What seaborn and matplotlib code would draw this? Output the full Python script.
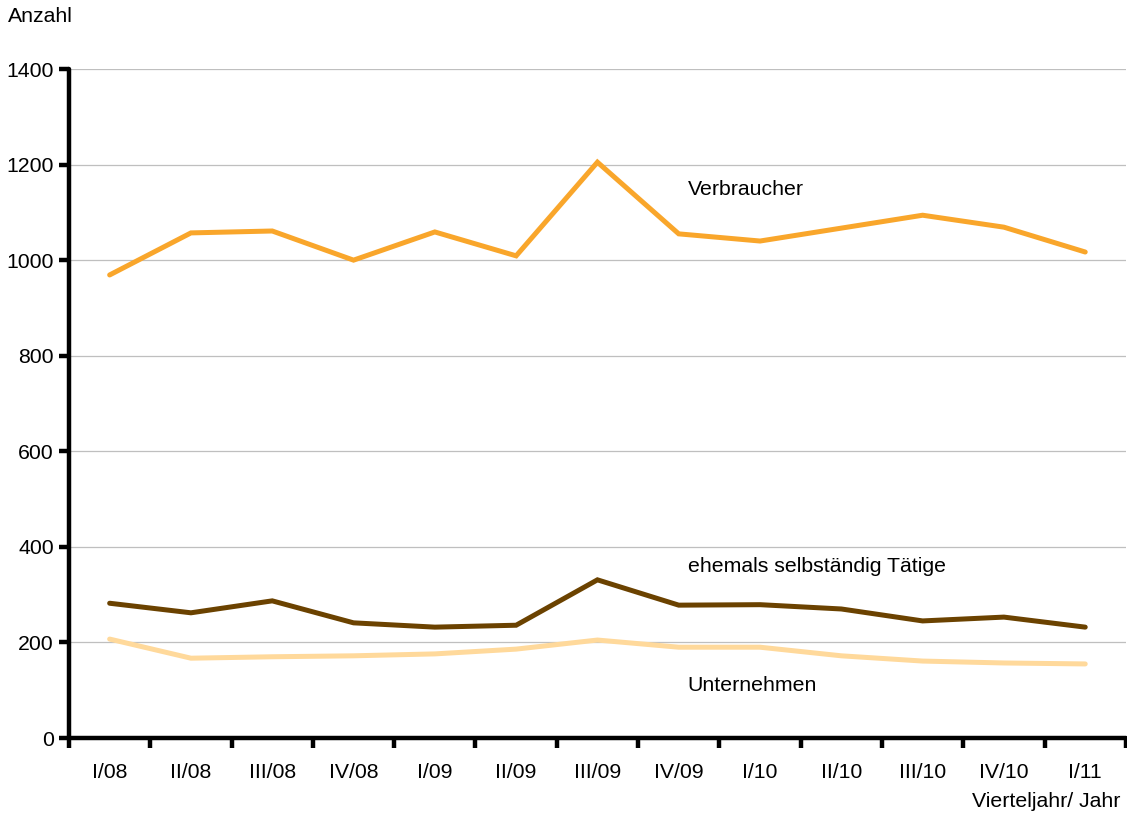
import matplotlib
matplotlib.use("Agg")
import matplotlib.pyplot as plt
import seaborn as sns
import pandas as pd
import numpy as np

quarters = ["I/08", "II/08", "III/08", "IV/08", "I/09", "II/09", "III/09",
            "IV/09", "I/10", "II/10", "III/10", "IV/10", "I/11"]
verbraucher = [969, 1057, 1061, 1000, 1059, 1009, 1205, 1055, 1040, 1067, 1094, 1069, 1017]
ehemals = [282, 262, 287, 241, 232, 236, 331, 278, 279, 270, 245, 253, 232]
unternehmen = [207, 167, 170, 172, 176, 186, 205, 190, 190, 172, 161, 157, 155]

series_names = ["Verbraucher", "ehemals selbständig Tätige", "Unternehmen"]
colors = ["#F9A62B", "#6B4200", "#FFD99B"]

df = pd.concat([
    pd.DataFrame({"Quartal": quarters, "Anzahl": verbraucher, "Gruppe": series_names[0]}),
    pd.DataFrame({"Quartal": quarters, "Anzahl": ehemals, "Gruppe": series_names[1]}),
    pd.DataFrame({"Quartal": quarters, "Anzahl": unternehmen, "Gruppe": series_names[2]}),
])

sns.set_theme(style="white")
plt.rcParams["font.family"] = ["Liberation Sans", "DejaVu Sans"]

FS = 15.3

fig = plt.figure(figsize=(11.27, 8.13), dpi=100)
ax = fig.add_axes([69 / 1127, 1 - 738 / 813, 1 - 69 / 1127 - 0.001, (738 - 69) / 813])

sns.lineplot(data=df, x="Quartal", y="Anzahl", hue="Gruppe", palette=colors,
             hue_order=series_names, linewidth=3.6, ax=ax, legend=False, sort=False,
             solid_capstyle="round", solid_joinstyle="miter")

ax.set_xlim(-0.5, len(quarters) - 0.5)
ax.set_ylim(0, 1400)
ax.set_yticks(np.arange(0, 1401, 200))
ax.yaxis.grid(True, color="#BFBFBF", linewidth=0.9)
ax.xaxis.grid(False)
ax.set_axisbelow(True)

for side in ["top", "right"]:
    ax.spines[side].set_visible(False)
for side in ["left", "bottom"]:
    ax.spines[side].set_color("black")
    ax.spines[side].set_linewidth(3.2)
    ax.spines[side].set_capstyle("round")

ax.set_xticks(range(len(quarters)))
ax.set_xticklabels(quarters)
ax.set_xticks(np.arange(-0.5, len(quarters), 1), minor=True)
ax.tick_params(axis="x", which="major", length=0, pad=18, labelsize=FS, colors="black")
ax.tick_params(axis="x", which="minor", length=7, width=3.2, color="black", direction="out", bottom=True)
ax.tick_params(axis="y", which="major", length=7, width=3.2, color="black", direction="out",
               labelsize=FS, pad=4, left=True, labelcolor="black")

ax.set_xlabel("")
ax.set_ylabel("")

ax.text(7.11, 1147, "Verbraucher", fontsize=FS, va="center", ha="left", color="black")
ax.text(7.11, 358, "ehemals selbständig Tätige", fontsize=FS, va="center", ha="left", color="black")
ax.text(7.11, 109, "Unternehmen", fontsize=FS, va="center", ha="left", color="black")

fig.text(8 / 1127, 1 - 17 / 813, "Anzahl", fontsize=FS, va="center", ha="left", color="black")
fig.text(1120 / 1127, 1 - 801 / 813, "Vierteljahr/ Jahr", fontsize=FS, va="center", ha="right", color="black")

fig.savefig("out.png", dpi=100)
